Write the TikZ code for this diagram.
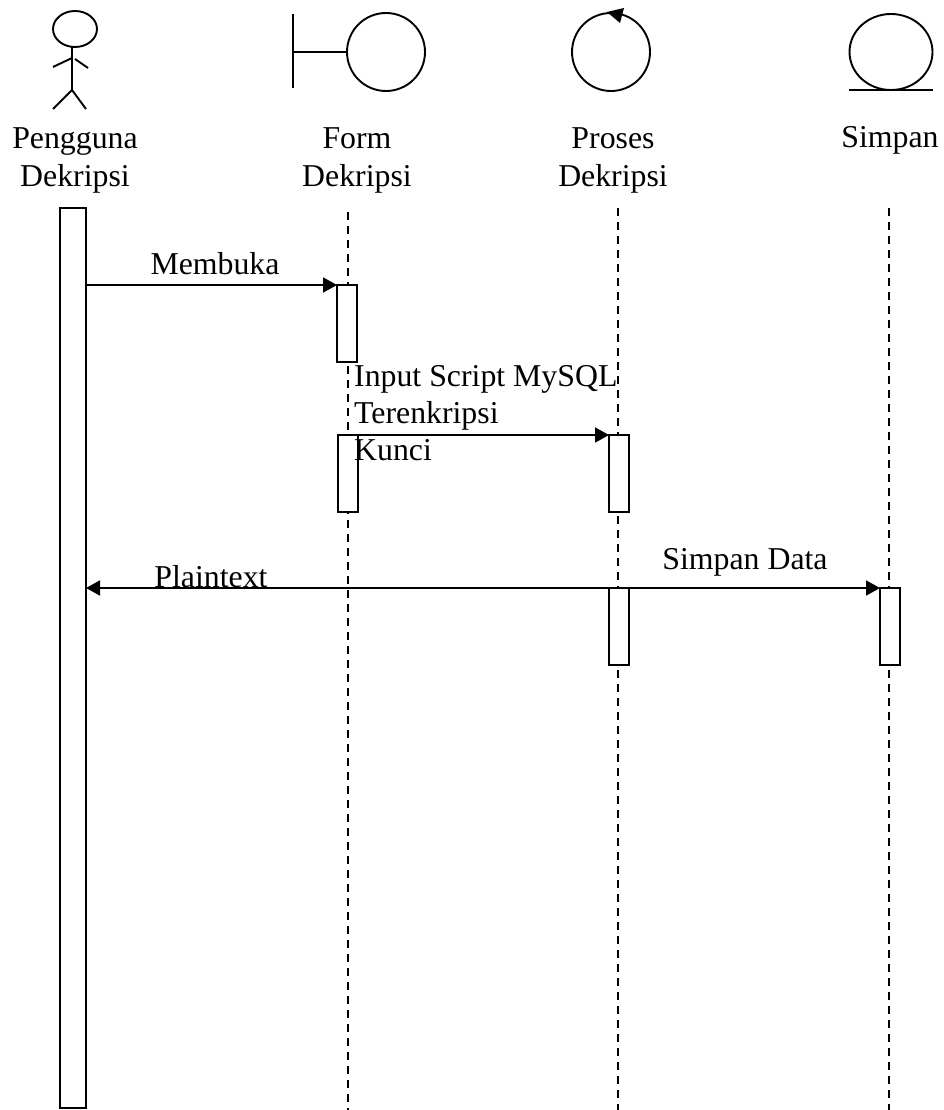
\documentclass[tikz,border=0pt]{standalone}
\usepackage{fontspec}
\setmainfont{Liberation Serif}
\usetikzlibrary{arrows.meta,shapes.geometric}
\tikzset{
  x=1pt,y=-1pt,
  shape line/.style={draw=black,line width=1.9pt},
  lifeline/.style={draw=black,line width=1.7pt,dash pattern=on 8pt off 6pt},
  activation/.style={draw=black,line width=1.8pt,fill=white,rectangle,inner sep=0pt,outer sep=0pt,minimum width=20pt,minimum height=77pt,anchor=north},
  message/.style={draw=black,line width=1.8pt,-{Triangle[length=14pt,width=15pt]},shorten >=0pt},
  msglabel/.style={font=\fontsize{31.8}{37}\selectfont,inner sep=0pt,anchor=base},
  titlelabel/.style={font=\fontsize{31.8}{38}\selectfont,inner sep=0pt,align=center,anchor=base},
}
\begin{document}
\begin{tikzpicture}
\useasboundingbox (0,0) rectangle (943,1110);
% lifelines
\coordinate (f0) at (348,212); \coordinate (f1) at (348,1110);
\coordinate (p0) at (618,208); \coordinate (p1) at (618,1110);
\coordinate (s0) at (889,208); \coordinate (s1) at (889,1110);
\draw[lifeline] (f0) -- (f1);
\draw[lifeline] (p0) -- (p1);
\draw[lifeline] (s0) -- (s1);
% actor icon
\node[shape line,ellipse,inner sep=0pt,minimum width=44pt,minimum height=36pt] (head) at (75,29) {};
\coordinate (neck) at (72,47); \coordinate (hip) at (72,90);
\coordinate (armL0) at (53,67); \coordinate (armL1) at (72,58);
\coordinate (armR0) at (75,59); \coordinate (armR1) at (88,68);
\coordinate (legL) at (53,109); \coordinate (legR) at (86,109);
\draw[shape line] (neck) -- (hip);
\draw[shape line] (armL0) -- (armL1);
\draw[shape line] (armR0) -- (armR1);
\draw[shape line] (legL) -- (hip) -- (legR);
% boundary icon
\node[shape line,circle,inner sep=0pt,minimum size=78pt] (bnd) at (386,52) {};
\coordinate (b0) at (293,14); \coordinate (b1) at (293,88); \coordinate (b2) at (293,52);
\draw[shape line] (b0) -- (b1);
\draw[shape line] (b2) -- (bnd.west);
% control icon
\node[shape line,circle,inner sep=0pt,minimum size=78pt] (ctl) at (611,52) {};
\coordinate (t0) at (607,12); \coordinate (t1) at (624,8); \coordinate (t2) at (620,23);
\fill[black] (t0) -- (t1) -- (t2) -- cycle;
% entity icon
\node[shape line,ellipse,inner sep=0pt,minimum width=83pt,minimum height=76pt] (ent) at (891,52) {};
\coordinate (e0) at (849,90); \coordinate (e1) at (933,90);
\draw[shape line] (e0) -- (e1);
% headings
\node[titlelabel] (tA) at (75,186) {Pengguna\\Dekripsi};
\node[titlelabel] (tB) at (357,186) {Form\\Dekripsi};
\node[titlelabel] (tC) at (613,186) {Proses\\Dekripsi};
\node[titlelabel] (tD) at (890,148) {Simpan};
% activations
\node[activation,minimum width=26pt,minimum height=900pt] (aA) at (73,208) {};
\node[activation] (aB1) at (347,285) {};
\node[activation] (aB2) at (348,435) {};
\node[activation] (aC1) at (619,435) {};
\node[activation] (aC2) at (619,588) {};
\node[activation] (aD) at (890,588) {};
% messages
\coordinate (m1) at (aA.east |- aB1.north);
\draw[message] (m1) -- (aB1.north west);
\draw[message] (aB2.north east) -- (aC1.north west);
\coordinate (m3) at (aA.east |- aC2.north);
\draw[message] (aC2.north west) -- (m3);
\draw[message] (aC2.north east) -- (aD.north west);
% labels
\node[msglabel] (l1) at (215,274) {Membuka};
\node[msglabel,anchor=base west] (l2) at (354,386) {Input Script MySQL};
\node[msglabel,anchor=base west] (l3) at (354,423) {Terenkripsi};
\node[msglabel,anchor=base west] (l4) at (354,460) {Kunci};
\node[msglabel] (l5) at (211,587) {Plaintext};
\node[msglabel] (l6) at (745,569) {Simpan Data};
\end{tikzpicture}
\end{document}
